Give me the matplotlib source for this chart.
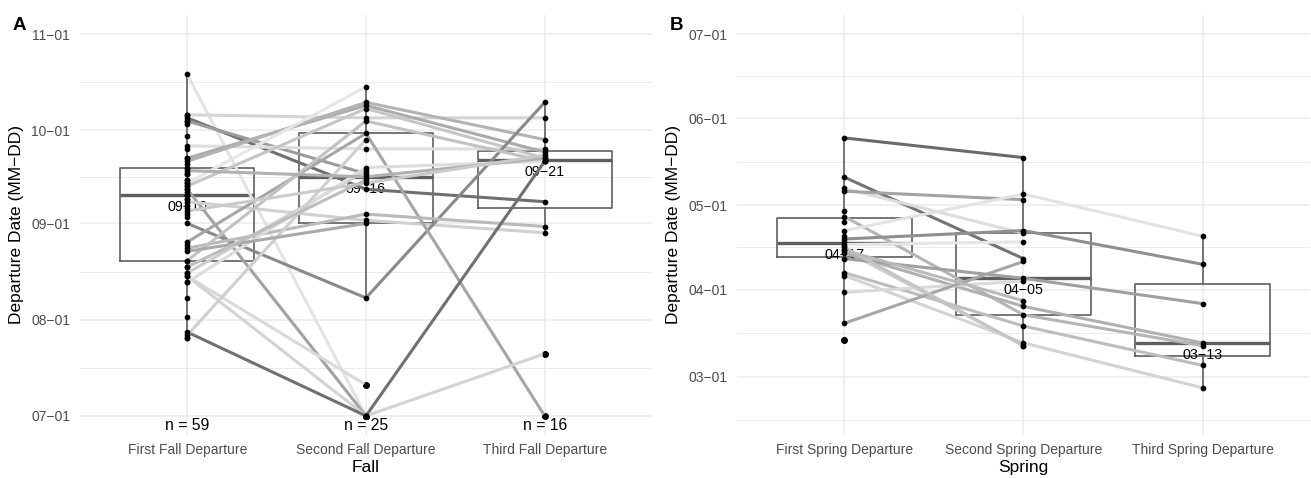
import numpy as np
import matplotlib
matplotlib.use("Agg")
import matplotlib.pyplot as plt
from datetime import date, timedelta

# ---- data (MM-DD departure dates) ----
fall_labels = ["First Fall Departure", "Second Fall Departure", "Third Fall Departure"]
spring_labels = ["First Spring Departure", "Second Spring Departure", "Third Spring Departure"]

# birds with more than one fall departure: (first, second, third)
fall_tracks = [
    ("10-19", "07-01", None),
    ("10-06", "10-05", "10-05"),
    ("10-05", "09-12", "09-08"),
    ("10-04", "09-17", None),
    ("09-26", "09-25", "09-25"),
    ("09-22", "10-09", "09-24"),
    ("09-21", "10-10", "09-28"),
    ("09-14", "10-15", None),
    ("09-13", "10-08", "09-22"),
    ("09-12", "07-01", None),
    ("09-08", "09-02", "08-29"),
    ("09-01", "08-08", "10-10"),
    ("08-26", "09-30", "07-01"),
    ("08-24", "09-04", "08-31"),
    ("08-20", "10-04", "09-21"),
    ("08-16", "09-18", None),
    ("08-15", "07-11", None),
    ("08-15", "07-01", "07-21"),
    ("08-13", "09-19", "09-21"),
    ("07-28", "07-01", "09-21"),
    ("07-27", "09-28", None),
    ("09-18", "09-16", "09-22"),
    ("08-23", "09-01", None),
    ("09-05", "09-14", "09-23"),
    ("08-18", "09-15", None),
]
fall_greys = ["#e3e3e3", "#d5d5d5", "#6f6f6f", "#9c9c9c", "#dedede", "#ababab", "#b3b3b3",
              "#e6e6e6", "#c6c6c6", "#a2a2a2", "#d0d0d0", "#8a8a8a", "#a6a6a6", "#bababa",
              "#c2c2c2", "#cdcdcd", "#d9d9d9", "#d3d3d3", "#dcdcdc", "#707070", "#cfcfcf",
              "#b0b0b0", "#a9a9a9", "#cbcbcb", "#bdbdbd"]
# birds with only a first fall departure
fall_single = ["07-26", "07-26", "08-02", "08-08", "08-13", "08-16", "08-18", "08-20", "08-25",
               "09-03", "09-04", "09-06", "09-07", "09-09", "09-09", "09-10", "09-10", "09-11",
               "09-12", "09-13", "09-14", "09-15", "09-15", "09-17", "09-17", "09-19", "09-19",
               "09-20", "09-22", "09-25", "09-29", "10-03", "10-04", "10-06"]

spring_tracks = [
    ("05-25", "05-18", None),
    ("05-11", "04-12", None),
    ("05-07", "04-21", None),
    ("05-06", "05-03", None),
    ("04-27", "03-23", "03-12"),
    ("04-22", "05-05", "04-20"),
    ("04-19", "04-22", "04-10"),
    ("04-17", "04-18", None),
    ("04-15", "03-12", None),
    ("04-14", "03-26", "03-13"),
    ("04-12", "04-05", "03-27"),
    ("04-07", "03-19", "03-05"),
    ("04-06", "03-13", "02-25"),
    ("03-31", "04-04", None),
    ("03-20", "04-11", None),
    ("04-16", "03-12", None),
    ("04-15", "03-28", None),
]
spring_greys = ["#6b6b6b", "#747474", "#dcdcdc", "#a3a3a3", "#b5b5b5", "#e3e3e3", "#8f8f8f",
                "#e6e6e6", "#cfcfcf", "#b0b0b0", "#a0a0a0", "#bdbdbd", "#d3d3d3", "#d9d9d9",
                "#a6a6a6", "#c4c4c4", "#bababa"]
spring_single = ["03-14", "04-18", "04-20", "04-25", "04-29"]

fall_ticks = ["07-01", "08-01", "09-01", "10-01", "11-01"]
spring_ticks = ["03-01", "04-01", "05-01", "06-01", "07-01"]
fall_limits = ("07-01", "11-01")
spring_limits = ("02-15", "07-01")


def doy(s):
    m, d = map(int, s.split("-"))
    return date(2021, m, d).timetuple().tm_yday


def mmdd(v):
    return (date(2021, 1, 1) + timedelta(days=int(np.floor(v)) - 1)).strftime("%m-%d")


def dash(s):
    return s.replace("-", "\u2212")


BOX = "#5f5f5f"


def draw_panel(ax, labels, tracks, greys, singles, ticks, limits, whis, show_n, xlabel):
    cols = [[], [], []]
    for t in tracks:
        for i, v in enumerate(t):
            if v is not None:
                cols[i].append(doy(v))
    cols[0] += [doy(v) for v in singles]
    pos = [1, 2, 3]

    for i in range(3):
        ax.boxplot(cols[i], positions=[pos[i]], widths=0.75, whis=whis[i], showcaps=False,
                   boxprops=dict(color=BOX, lw=1.2), whiskerprops=dict(color=BOX, lw=1.2),
                   medianprops=dict(color=BOX, lw=2.4),
                   flierprops=dict(marker="o", mfc="black", mec="black", ms=4),
                   zorder=2, manage_ticks=False)
        med = np.median(cols[i])
        ax.annotate(dash(mmdd(med)), (pos[i], med), xytext=(0, -3.5), textcoords="offset points",
                    ha="center", va="top", fontsize=10.3, zorder=2.5)

    for t, g in zip(tracks, greys):
        vals = [doy(v) for v in t if v is not None]
        ax.plot(pos[:len(vals)], vals, color=g, lw=2.2, solid_capstyle="butt", zorder=3)

    for i in range(3):
        ax.plot([pos[i]] * len(cols[i]), cols[i], "o", color="black", ms=3.1, zorder=4)

    if show_n:
        for i in range(3):
            ax.annotate("n = %d" % len(cols[i]), (pos[i], doy(ticks[0])), xytext=(0, -1.5),
                        textcoords="offset points", ha="center", va="top", fontsize=11.3, zorder=5)

    lo, hi = doy(limits[0]), doy(limits[1])
    rng = hi - lo
    ymin, ymax = lo - 0.05 * rng, hi + 0.05 * rng
    major = [doy(t) for t in ticks]
    ax.set_yticks(major)
    ax.set_yticklabels([dash(t) for t in ticks])
    step = major[1] - major[0]
    minor = [major[0] - step / 2] + [(a + b) / 2 for a, b in zip(major[:-1], major[1:])] + [major[-1] + step / 2]
    ax.set_yticks([m for m in minor if ymin < m < ymax], minor=True)
    ax.set_xticks(pos)
    ax.set_xticklabels(labels)
    ax.set_ylim(ymin, ymax)
    ax.set_xlim(0.4, 3.6)
    ax.tick_params(which="both", length=0)
    ax.tick_params(axis="x", pad=6, labelsize=10, labelcolor="#4d4d4d")
    ax.tick_params(axis="y", pad=7, labelsize=10, labelcolor="#4d4d4d")
    ax.grid(which="major", color="#ebebeb", lw=1.1)
    ax.grid(which="minor", axis="y", color="#ebebeb", lw=0.7)
    ax.set_axisbelow(True)
    for sp in ax.spines.values():
        sp.set_visible(False)
    ax.set_xlabel(xlabel, fontsize=12.5, labelpad=2)
    ax.set_ylabel(dash("Departure Date (MM-DD)"), fontsize=12.5, labelpad=5)


def main():
    plt.rcParams["font.family"] = ["Liberation Sans", "DejaVu Sans"]
    fig = plt.figure(figsize=(13.11, 4.78), dpi=100)
    axA = fig.add_axes([0.061, 0.090, 0.4363, 0.8787])
    axB = fig.add_axes([0.5622, 0.090, 0.4370, 0.8787])
    draw_panel(axA, fall_labels, fall_tracks, fall_greys, fall_single, fall_ticks, fall_limits,
               [1.5, 1.5, 1.5], True, "Fall")
    draw_panel(axB, spring_labels, spring_tracks, spring_greys, spring_single, spring_ticks,
               spring_limits, [(3, 100), 1.5, 1.5], False, "Spring")
    fig.text(12.5 / 1311, 1 - 29.5 / 478, "A", fontsize=13.5, fontweight="bold", ha="left", va="baseline")
    fig.text(670 / 1311, 1 - 29.5 / 478, "B", fontsize=13.5, fontweight="bold", ha="left", va="baseline")
    fig.savefig("out.png", dpi=100)


if __name__ == "__main__":
    main()
